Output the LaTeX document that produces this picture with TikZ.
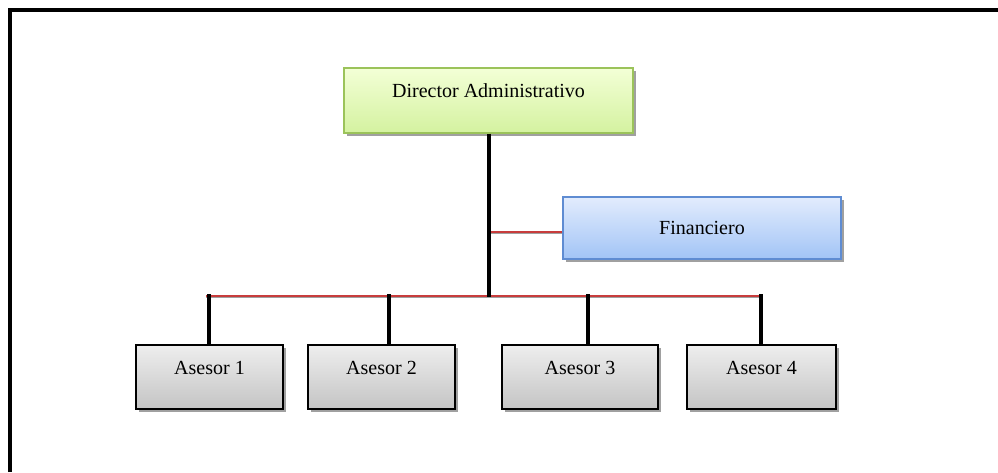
\documentclass[tikz,border=0pt]{standalone}
\usepackage{fontspec}
\setmainfont{Liberation Serif}
\usetikzlibrary{shadows,calc}
\definecolor{grnTop}{RGB}{243,255,214}
\definecolor{grnBot}{RGB}{212,242,160}
\definecolor{grnLine}{RGB}{155,195,90}
\definecolor{bluTop}{RGB}{226,236,253}
\definecolor{bluBot}{RGB}{162,196,246}
\definecolor{bluLine}{RGB}{95,140,210}
\definecolor{gryTop}{RGB}{238,238,238}
\definecolor{gryBot}{RGB}{196,196,196}
\definecolor{busred}{RGB}{200,60,60}
\definecolor{shadowgray}{RGB}{160,160,160}
\tikzset{
  boxbase/.style={rectangle, inner sep=0pt, shading=axis, shading angle=0,
     drop shadow={shadow xshift=2.5pt, shadow yshift=-2.5pt, fill=shadowgray, opacity=1}},
  dirbox/.style={boxbase, draw=grnLine, line width=1.3pt, top color=grnTop, bottom color=grnBot,
     minimum width=289pt, minimum height=65pt},
  finbox/.style={boxbase, draw=bluLine, line width=1.3pt, top color=bluTop, bottom color=bluBot,
     minimum width=278pt, minimum height=62pt},
  asbox/.style={boxbase, draw=black, line width=1.2pt, top color=gryTop, bottom color=gryBot,
     minimum height=64pt},
  txt/.style={font=\fontsize{20}{23}\selectfont, inner sep=0pt},
  heavyline/.style={line width=4pt, draw=black},
  busline/.style={line width=2pt, draw=busred},
  busshadow/.style={line width=1.8pt, draw=shadowgray},
}
\begin{document}
\begin{tikzpicture}[x=1pt,y=-1pt]
\useasboundingbox (0,0) rectangle (998,472);
% frame (top and left only)
\draw[line width=3.5pt, black] (9.75,472) -- (9.75,9.75) -- (998,9.75);

% boxes
\node[dirbox] (dir) at (488.5,100.5) {};
\node[txt] (dirt) at ([yshift=9.5pt]dir.center) {Director Administrativo};
\node[finbox] (fin) at (702,228) {};
\node[txt] (fint) at (fin.center) {Financiero};
\node[asbox, minimum width=147pt] (a1) at (209.5,377) {};
\node[asbox, minimum width=147pt] (a2) at (381.5,377) {};
\node[asbox, minimum width=156pt] (a3) at (580,377) {};
\node[asbox, minimum width=149pt] (a4) at (761.5,377) {};
\node[txt] (a1t) at ([yshift=9pt]a1.center) {Asesor 1};
\node[txt] (a2t) at ([yshift=9pt]a2.center) {Asesor 2};
\node[txt] (a3t) at ([yshift=9pt]a3.center) {Asesor 3};
\node[txt] (a4t) at ([yshift=9pt]a4.center) {Asesor 4};

% bus coordinates
\coordinate (bl) at (206,295.5);
\coordinate (br) at (763,295.5);
\coordinate (bm) at (488.5,297);
\coordinate (fm) at (488.5,231.5);

% connectors
\draw[busshadow] ($(fm)+(0,1.9)$) -- ($(fin.west |- fm)+(0,1.9)$);
\draw[busline] (fm) -- (fin.west |- fm);
\draw[busshadow] ($(bl)+(0,1.9)$) -- ($(br)+(0,1.9)$);
\draw[busline] (bl) -- (br);
\draw[heavyline] (dir.south) -- (bm);
\draw[heavyline] (209,294) -- (a1.north -| 209,0);
\draw[heavyline] (389,294) -- (a2.north -| 389,0);
\draw[heavyline] (588,294) -- (a3.north -| 588,0);
\draw[heavyline] (761,294) -- (a4.north -| 761,0);
\end{tikzpicture}
\end{document}
